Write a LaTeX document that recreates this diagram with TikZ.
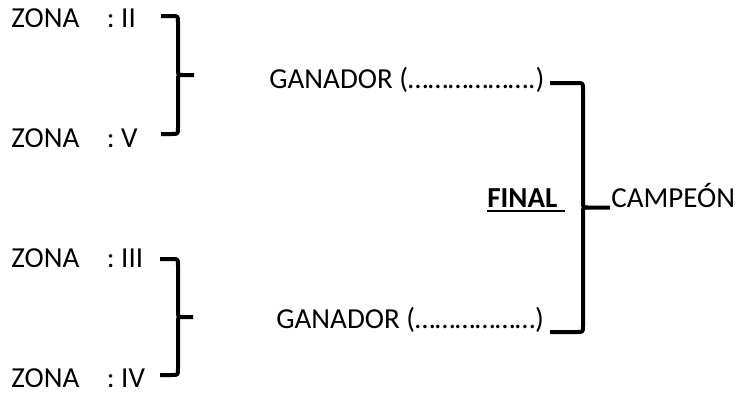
\documentclass[tikz,border=0pt]{standalone}
\usepackage{fontspec}
\setmainfont{Carlito}
% llave: x inicio, x vertical, x punta, y arriba, y abajo
\newcommand{\llave}[5]{%
  \draw[llave] (#1,#4) -- ({#2-6},#4) .. controls (#2,#4) .. (#2,{#4+6})
    -- (#2,{(#4+#5)/2-5}) .. controls (#2,{(#4+#5)/2}) .. ({#2+5},{(#4+#5)/2}) -- (#3,{(#4+#5)/2});
  \draw[llave] ({#2+5},{(#4+#5)/2}) .. controls (#2,{(#4+#5)/2}) .. (#2,{(#4+#5)/2+5})
    -- (#2,{#5-6}) .. controls (#2,#5) .. ({#2-6},#5) -- (#1,#5);
}
\begin{document}
\begin{tikzpicture}[x=0.5pt,y=-0.5pt,font=\fontsize{14.5}{16}\selectfont,
    txt/.style={inner sep=0pt, anchor=base west},
    llave/.style={line width=2pt, line cap=butt, line join=round}]
  \useasboundingbox (0,0) rectangle (737,392);
  \node[txt] (z2) at (11,27) {ZONA\hspace{0.95em}: II};
  \node[txt] (z5) at (11,147) {ZONA\hspace{0.95em}: V};
  \node[txt] (z3) at (11,267) {ZONA\hspace{0.95em}: III};
  \node[txt] (z4) at (11,387) {ZONA\hspace{0.95em}: IV};
  \node[txt] (g1) at (269,88) {GANADOR (……………….)};
  \node[txt] (g2) at (276,328) {GANADOR (………………)};
  \node[txt, font=\fontsize{14.5}{16}\selectfont\bfseries] (fin) at (487,207) {FINAL};
  \node[txt] (camp) at (611,207) {CAMPEÓN};
  \draw[line width=1pt] ([yshift=-2pt]fin.base west) -- ++(78,0);
  \llave{161}{178}{194}{16}{134}
  \llave{160}{178}{193}{259}{375}
  \llave{550}{583}{610}{83}{332}
\end{tikzpicture}
\end{document}
